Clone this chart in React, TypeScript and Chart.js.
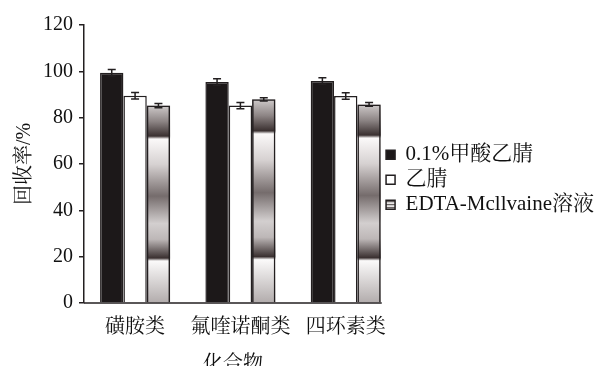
import React, { useEffect, useRef } from "react";
import { Chart, registerables } from "chart.js";

Chart.register(...registerables);

const categories = ["磺胺类", "氟喹诺酮类", "四环素类"];
const seriesNames = ["0.1%甲酸乙腈", "乙腈", "EDTA-Mcllvaine溶液"];
const formicValues = [99.4, 95.4, 95.8];
const formicErrors = [1.4, 1.4, 1.4];
const acnValues = [89.5, 85.2, 89.4];
const acnErrors = [1.4, 1.3, 1.4];
const edtaValues = [85.2, 87.9, 85.7];
const edtaErrors = [0.9, 0.7, 0.8];
const yTicks = [0, 20, 40, 60, 80, 100, 120];

const FONT = '"Liberation Serif", "Noto Serif CJK SC", "Noto Sans CJK SC", serif';
const INK = "#231f20";
const allValues = [formicValues, acnValues, edtaValues];
const allErrors = [formicErrors, acnErrors, edtaErrors];

const gradientStops: [number, string][] = [
  [0, "#cfcaca"],
  [0.08, "#8d8585"],
  [0.155, "#3a3030"],
  [0.17, "#fbf9f9"],
  [0.3, "#d6d1d1"],
  [0.46, "#756c6c"],
  [0.6, "#d3cfcf"],
  [0.68, "#bdb7b7"],
  [0.775, "#3a3030"],
  [0.79, "#fbfafa"],
  [1, "#b3adad"],
];

function makeStripePattern(ctx: CanvasRenderingContext2D) {
  const c = document.createElement("canvas");
  c.width = 4;
  c.height = 3;
  const g = c.getContext("2d")!;
  g.fillStyle = "#e8e6e6";
  g.fillRect(0, 0, 4, 3);
  g.fillStyle = "#6a6464";
  g.fillRect(0, 0, 4, 1.2);
  return ctx.createPattern(c, "repeat");
}

const gradientBarPlugin = {
  id: "gradientBars",
  beforeDatasetDraw(chart: any, args: any) {
    if (args.index !== 2) return;
    const ctx = chart.ctx;
    const meta = chart.getDatasetMeta(2);
    ctx.save();
    meta.data.forEach((el: any) => {
      const top = el.y;
      const base = el.base;
      const grad = ctx.createLinearGradient(0, top, 0, base);
      gradientStops.forEach(([o, c]) => grad.addColorStop(o, c));
      ctx.fillStyle = grad;
      ctx.fillRect(el.x - el.width / 2, top, el.width, base - top);
    });
    ctx.restore();
  },
};

const errorBarPlugin = {
  id: "errorBars",
  afterDatasetsDraw(chart: any) {
    const ctx = chart.ctx;
    const yScale = chart.scales.y;
    ctx.save();
    ctx.strokeStyle = INK;
    ctx.lineWidth = 1.5;
    allValues.forEach((vals, di) => {
      const meta = chart.getDatasetMeta(di);
      meta.data.forEach((el: any, i: number) => {
        const v = vals[i];
        const e = allErrors[di][i];
        const yt = yScale.getPixelForValue(v + e);
        const yb = yScale.getPixelForValue(v - e);
        const x = el.x;
        ctx.beginPath();
        ctx.moveTo(x, yt);
        ctx.lineTo(x, yb);
        ctx.moveTo(x - 4, yt);
        ctx.lineTo(x + 4, yt);
        ctx.moveTo(x - 4, yb);
        ctx.lineTo(x + 4, yb);
        ctx.stroke();
      });
    });
    ctx.restore();
  },
};

const xAxisLinePlugin = {
  id: "xAxisLine",
  afterDraw(chart: any) {
    const ctx = chart.ctx;
    const meta = chart.getDatasetMeta(2);
    const last = meta.data[meta.data.length - 1];
    const right = last.x + last.width / 2 + 1;
    const y = chart.chartArea.bottom;
    ctx.save();
    ctx.strokeStyle = INK;
    ctx.lineWidth = 1.5;
    ctx.beginPath();
    ctx.moveTo(chart.chartArea.left, y);
    ctx.lineTo(right, y);
    ctx.stroke();
    ctx.restore();
  },
};

export default function App() {
  const ref = useRef<HTMLCanvasElement>(null);
  useEffect(() => {
    const canvas = ref.current!;
    const ctx = canvas.getContext("2d")!;
    const pattern = makeStripePattern(ctx);
    const toPoints = (vals: number[]) => vals.map((v, i) => ({ x: i, y: v }));
    const chart = new Chart(canvas, {
      type: "bar",
      data: {
        datasets: [
          {
            label: seriesNames[0],
            data: toPoints(formicValues),
            backgroundColor: "#1c1819",
            borderColor: INK,
            borderWidth: 1.5,
          },
          {
            label: seriesNames[1],
            data: toPoints(acnValues),
            backgroundColor: "#ffffff",
            borderColor: INK,
            borderWidth: 1.5,
          },
          {
            label: seriesNames[2],
            data: toPoints(edtaValues),
            backgroundColor: "rgba(0,0,0,0)",
            borderColor: INK,
            borderWidth: 1.5,
          },
        ],
      },
      options: {
        responsive: false,
        animation: false,
        devicePixelRatio: 1,
        categoryPercentage: 0.665,
        barPercentage: 1,
        layout: { padding: { top: 25, left: 4, right: -6, bottom: 1 } },
        plugins: {
          tooltip: { enabled: false },
          legend: {
            position: "right",
            align: "start",
            maxWidth: 260,
            title: {
              display: true,
              text: " ",
              font: { size: 1 },
              padding: { top: 114, bottom: 0 },
            },
            labels: {
              boxWidth: 9,
              boxHeight: 9,
              padding: 4,
              color: "#111",
              font: { family: FONT, size: 21 },
              generateLabels(ch: any) {
                const base = Chart.defaults.plugins.legend.labels.generateLabels(ch);
                return base.map((l: any, i: number) => ({
                  ...l,
                  fillStyle: i === 0 ? "#1c1819" : i === 1 ? "#ffffff" : pattern,
                  strokeStyle: INK,
                  lineWidth: 1.5,
                }));
              },
            },
          },
        },
        scales: {
          x: {
            type: "linear",
            offset: false,
            min: -0.485,
            max: 2.345,
            afterBuildTicks(axis: any) {
              axis.ticks = categories.map((_, i) => ({ value: i }));
            },
            grid: { display: false, drawTicks: false },
            border: { display: false },
            ticks: {
              color: "#111",
              font: { family: FONT, size: 20, lineHeight: 1 },
              padding: 15,
              autoSkip: false,
              maxRotation: 0,
              callback: (v: any) => categories[Math.round(Number(v))] ?? "",
            },
            title: {
              display: true,
              text: "化合物",
              color: "#111",
              font: { family: FONT, size: 20, lineHeight: 1 },
              padding: { top: 2, bottom: 0 },
            },
          },
          y: {
            min: 0,
            max: 120,
            afterBuildTicks(axis: any) {
              axis.ticks = yTicks.map((v) => ({ value: v }));
            },
            grid: {
              drawOnChartArea: false,
              drawTicks: true,
              tickLength: 5,
              color: INK,
              lineWidth: 1.5,
            },
            border: { display: true, color: INK, width: 1.5 },
            ticks: {
              color: "#111",
              font: { family: FONT, size: 20 },
              padding: 6,
            },
            title: {
              display: true,
              text: "回收率/%",
              color: "#111",
              font: { family: FONT, size: 20 },
              padding: { top: 9, bottom: 0 },
            },
          },
        },
      },
      plugins: [gradientBarPlugin, errorBarPlugin, xAxisLinePlugin],
    });
    return () => chart.destroy();
  }, []);
  return (
    <div
      style={{
        position: "fixed",
        left: 0,
        top: 0,
        width: 598,
        height: 366,
        overflow: "hidden",
        background: "#fff",
      }}
    >
      <canvas ref={ref} width={598} height={376} style={{ display: "block" }} />
    </div>
  );
}
